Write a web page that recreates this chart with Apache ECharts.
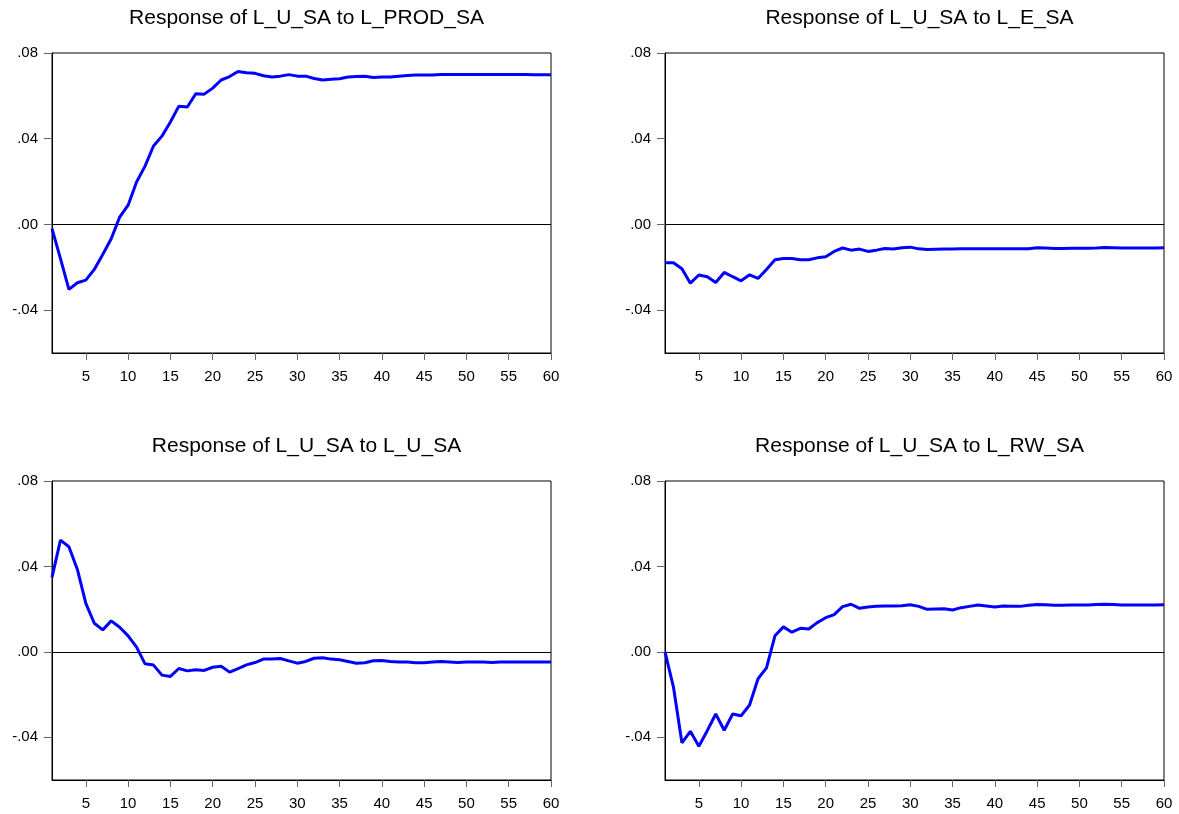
<!DOCTYPE html>
<html>
<head>
<meta charset="utf-8">
<script src="https://cdn.jsdelivr.net/npm/echarts@6/dist/echarts.min.js"></script>
<style>
html,body{margin:0;padding:0;background:#fff;}
#chart{width:1179px;height:814px;}
</style>
</head>
<body>
<div id="chart"></div>
<script>
const periods = Array.from({length: 60}, (_, i) => i + 1);
const xTickValues = [5,10,15,20,25,30,35,40,45,50,55,60];
const yTickValues = [-0.04, 0, 0.04, 0.08];

const titles = [
  "Response of L_U_SA to L_PROD_SA",
  "Response of L_U_SA to L_E_SA",
  "Response of L_U_SA to L_U_SA",
  "Response of L_U_SA to L_RW_SA"
];

const respProd = [
  -0.002,-0.016,-0.0303,-0.0272,-0.026,-0.021,-0.014,-0.0067,0.0034,0.009,
  0.0198,0.0272,0.0366,0.0412,0.0478,0.0552,0.0548,0.061,0.0608,0.0636,
  0.0674,0.069,0.0714,0.0708,0.0705,0.0694,0.0688,0.0692,0.0699,0.0692,
  0.0692,0.0681,0.0674,0.0677,0.068,0.0688,0.069,0.0692,0.0686,0.0688,
  0.0688,0.0692,0.0695,0.0697,0.0697,0.0697,0.07,0.07,0.07,0.07,
  0.07,0.07,0.07,0.07,0.07,0.07,0.07,0.0699,0.0699,0.0699
];

const respE = [
  -0.0179,-0.0179,-0.0207,-0.0274,-0.0236,-0.0244,-0.0271,-0.0224,-0.0244,-0.0263,
  -0.0235,-0.0252,-0.021,-0.0165,-0.0159,-0.0159,-0.0165,-0.0165,-0.0156,-0.0151,
  -0.0126,-0.011,-0.012,-0.0115,-0.0126,-0.012,-0.0112,-0.0115,-0.0109,-0.0106,
  -0.0114,-0.0117,-0.0116,-0.0115,-0.0115,-0.0114,-0.0113,-0.0113,-0.0114,-0.0113,
  -0.0113,-0.0113,-0.0113,-0.0113,-0.0109,-0.011,-0.0112,-0.0112,-0.0111,-0.0111,
  -0.0111,-0.011,-0.0108,-0.0109,-0.011,-0.011,-0.011,-0.011,-0.011,-0.0109
];

const respU = [
  0.0349,0.0523,0.0492,0.0386,0.0227,0.0134,0.0103,0.0145,0.0115,0.0075,
  0.0022,-0.0056,-0.0062,-0.0109,-0.0115,-0.0078,-0.0089,-0.0084,-0.0087,-0.0072,
  -0.0067,-0.0095,-0.0078,-0.0061,-0.005,-0.0034,-0.0033,-0.0031,-0.0042,-0.0053,
  -0.0045,-0.003,-0.0028,-0.0034,-0.0037,-0.0045,-0.0053,-0.0051,-0.0042,-0.004,
  -0.0045,-0.0047,-0.0048,-0.0051,-0.0051,-0.0048,-0.0045,-0.0047,-0.005,-0.0048,
  -0.0048,-0.0048,-0.005,-0.0047,-0.0047,-0.0047,-0.0047,-0.0047,-0.0047,-0.0048
];

const respRW = [
  0,-0.0165,-0.0426,-0.0372,-0.0442,-0.0369,-0.0291,-0.0367,-0.0291,-0.0299,
  -0.0249,-0.0126,-0.0075,0.0075,0.0117,0.0092,0.011,0.0107,0.0137,0.016,
  0.0174,0.0212,0.0223,0.0204,0.021,0.0213,0.0215,0.0215,0.0216,0.0221,
  0.0213,0.0199,0.0201,0.0202,0.0196,0.0207,0.0213,0.0219,0.0215,0.021,
  0.0215,0.0213,0.0213,0.0218,0.0222,0.0221,0.0218,0.0218,0.0219,0.0219,
  0.0219,0.0222,0.0223,0.0222,0.0219,0.0219,0.0219,0.0219,0.0219,0.0221
];

const allSeries = [respProd, respE, respU, respRW];

const panels = [
  {left: 52, top: 53, width: 499, height: 300},
  {left: 665, top: 53, width: 499, height: 300},
  {left: 52, top: 481, width: 499, height: 299},
  {left: 665, top: 481, width: 499, height: 299}
];

const FONT = 'Liberation Sans, Arial, sans-serif';

const fmtY = v => {
  const s = Number(v).toFixed(2);
  return s.replace('0.', '.');
};

const option = {
  animation: false,
  backgroundColor: '#ffffff',
  title: panels.map((p, i) => ({
    text: titles[i],
    left: p.left + p.width / 2,
    top: p.top - 50,
    textAlign: 'center',
    textStyle: {fontFamily: FONT, fontSize: 21, fontWeight: 'normal', color: '#000'}
  })),
  grid: panels.map(p => ({
    left: p.left, top: p.top, width: p.width, height: p.height,
    show: true, borderColor: '#000', borderWidth: 1, backgroundColor: 'transparent',
    containLabel: false
  })),
  xAxis: panels.map((p, i) => ({
    type: 'value', gridIndex: i, min: 1, max: 60,
    axisLine: {show: true, onZero: false, lineStyle: {color: '#000', width: 1}},
    axisTick: {show: true, length: 7, inside: false, customValues: xTickValues, lineStyle: {color: '#666'}},
    axisLabel: {show: true, customValues: xTickValues, margin: 16, color: '#000',
      fontFamily: FONT, fontSize: 15, formatter: v => String(v)},
    splitLine: {show: false}
  })),
  yAxis: panels.map((p, i) => ({
    type: 'value', gridIndex: i, min: -0.06, max: 0.08,
    axisLine: {show: true, onZero: false, lineStyle: {color: '#000', width: 1}},
    axisTick: {show: true, length: 8, inside: false, customValues: yTickValues, lineStyle: {color: '#666'}},
    axisLabel: {show: true, customValues: yTickValues, margin: 14, color: '#000',
      fontFamily: FONT, fontSize: 15, formatter: fmtY},
    splitLine: {show: false}
  })),
  series: allSeries.map((vals, i) => ({
    type: 'line', xAxisIndex: i, yAxisIndex: i,
    data: periods.map((t, k) => [t, vals[k]]),
    showSymbol: false, symbol: 'none',
    lineStyle: {color: '#0000ff', width: 3},
    z: 3,
    markLine: {
      silent: true, symbol: ['none', 'none'], label: {show: false},
      lineStyle: {color: '#000', width: 1, type: 'solid'},
      data: [{yAxis: 0}], z: 2
    }
  }))
};

const chart = echarts.init(document.getElementById('chart'), null, {renderer: 'canvas'});
chart.setOption(option);
</script>
</body>
</html>
